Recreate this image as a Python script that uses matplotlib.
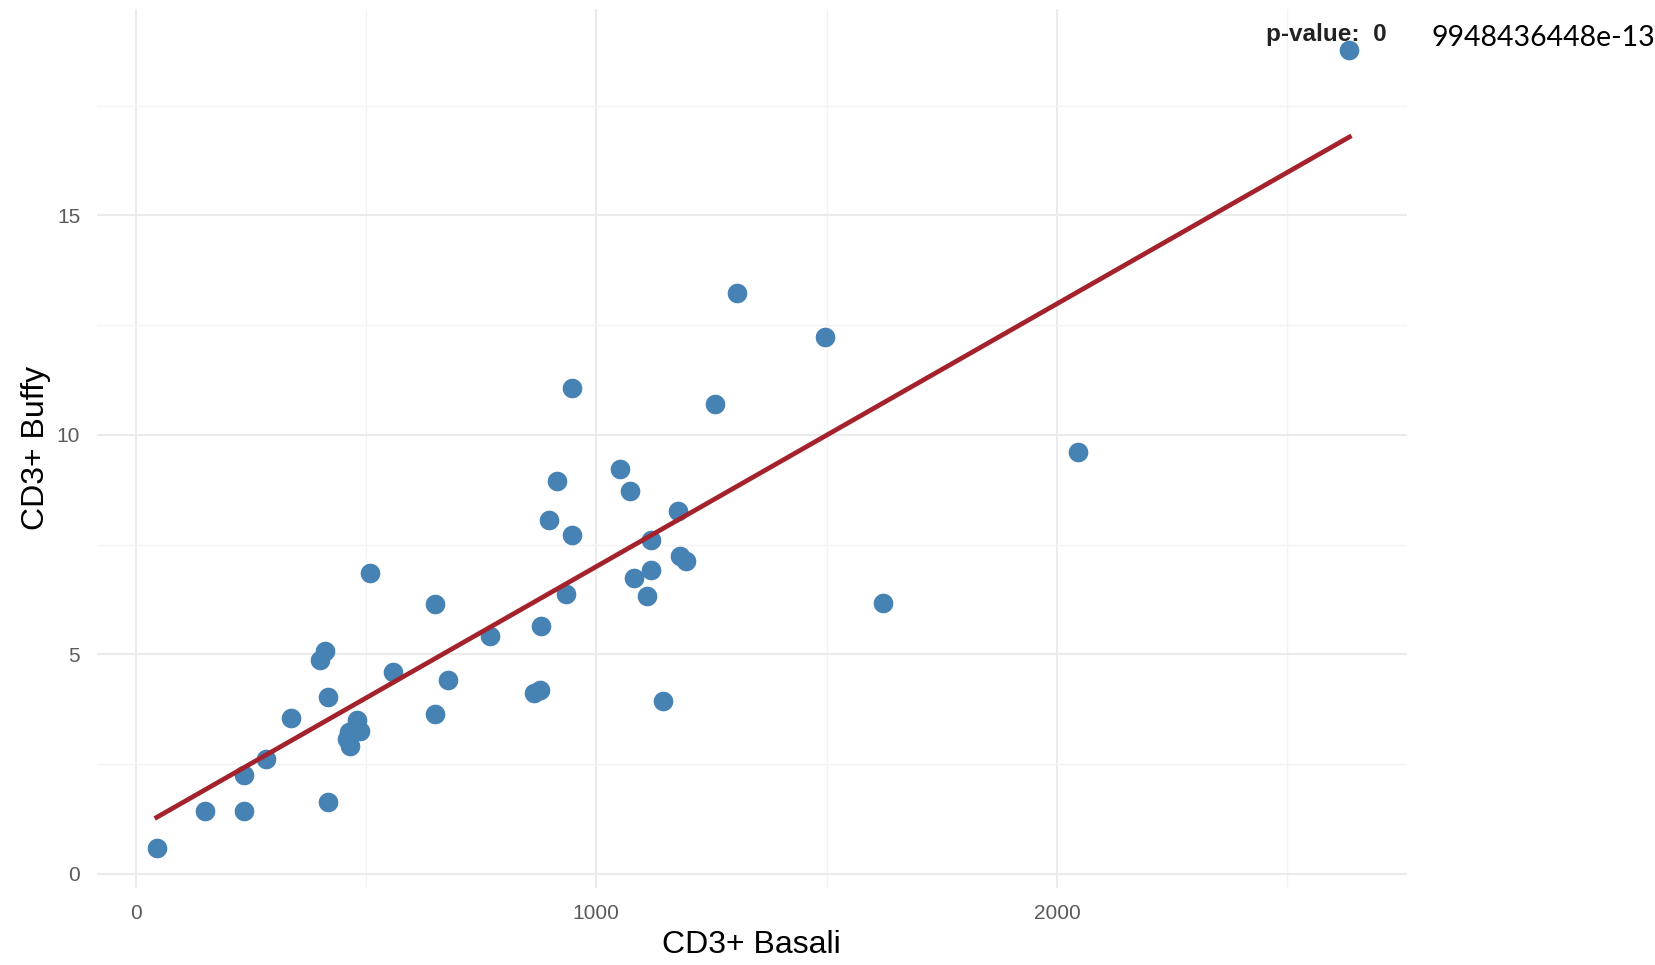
import numpy as np
import matplotlib.pyplot as plt

# CD3+ counts
basali = [46, 151, 236, 236, 284, 337, 417, 417, 401, 412, 463, 458, 465, 481, 488, 474,
          509, 559, 651, 651, 678, 770, 864, 877, 880, 898, 914, 935, 948, 948,
          1052, 1074, 1081, 1111, 1120, 1120, 1145, 1178, 1182, 1194, 1258, 1306,
          1496, 1622, 2046, 2635]
buffy = [0.60, 1.43, 1.43, 2.25, 2.61, 3.55, 1.64, 4.03, 4.88, 5.07, 3.24, 3.07, 2.92, 3.50, 3.26, 3.30,
         6.86, 4.59, 3.65, 6.14, 4.42, 5.41, 4.13, 4.20, 5.65, 8.07, 8.94, 6.38, 7.73, 11.06,
         9.23, 8.72, 6.74, 6.33, 7.61, 6.93, 3.94, 8.26, 7.25, 7.13, 10.70, 13.24,
         12.22, 6.18, 9.61, 18.77]
pval_label = "p-value:  0"
pval_rest = "9948436448e-13"

x = np.array(basali)
y = np.array(buffy)
slope, intercept = np.polyfit(x, y, 1)
xs = np.array([x.min(), x.max()])

fig = plt.figure(figsize=(16.55, 9.65), dpi=100)
ax = fig.add_axes([0.0585, 0.0803, 0.7914, 0.9108])

ax.scatter(x, y, s=200, color="#4682B4", zorder=3, linewidths=0)
ax.plot(xs, intercept + slope * xs, color="#A3222B", lw=3.4, zorder=4)

ax.set_xlim(-84, 2759)
ax.set_ylim(-0.31, 19.71)
ax.set_xticks([0, 1000, 2000])
ax.set_yticks([0, 5, 10, 15])
ax.set_xticks([500, 1500, 2500], minor=True)
ax.set_yticks([2.5, 7.5, 12.5, 17.5], minor=True)
ax.grid(which="major", color="#EBEBEB", lw=1.5)
ax.grid(which="minor", color="#F3F3F3", lw=1.0)
ax.set_axisbelow(True)
for s in ax.spines.values():
    s.set_visible(False)
ax.tick_params(which="both", length=0, labelsize=15, labelcolor="#5A5A5A", pad=12)
for lab in ax.get_xticklabels() + ax.get_yticklabels():
    lab.set_family("Liberation Sans")

ax.set_xlabel("CD3+ Basali", fontsize=23, family="Liberation Sans", labelpad=5)
ax.set_ylabel("CD3+ Buffy", fontsize=23, family="Liberation Sans", labelpad=4)

fig.text(0.765, 0.964, pval_label, fontsize=17.5, fontweight="bold", color="#222222",
         family="Liberation Sans", ha="left", va="center")
fig.text(0.865, 0.961, pval_rest, fontsize=20.5, color="black",
         family="Lato", ha="left", va="center")

fig.savefig("out.png", dpi=100, facecolor="white")
